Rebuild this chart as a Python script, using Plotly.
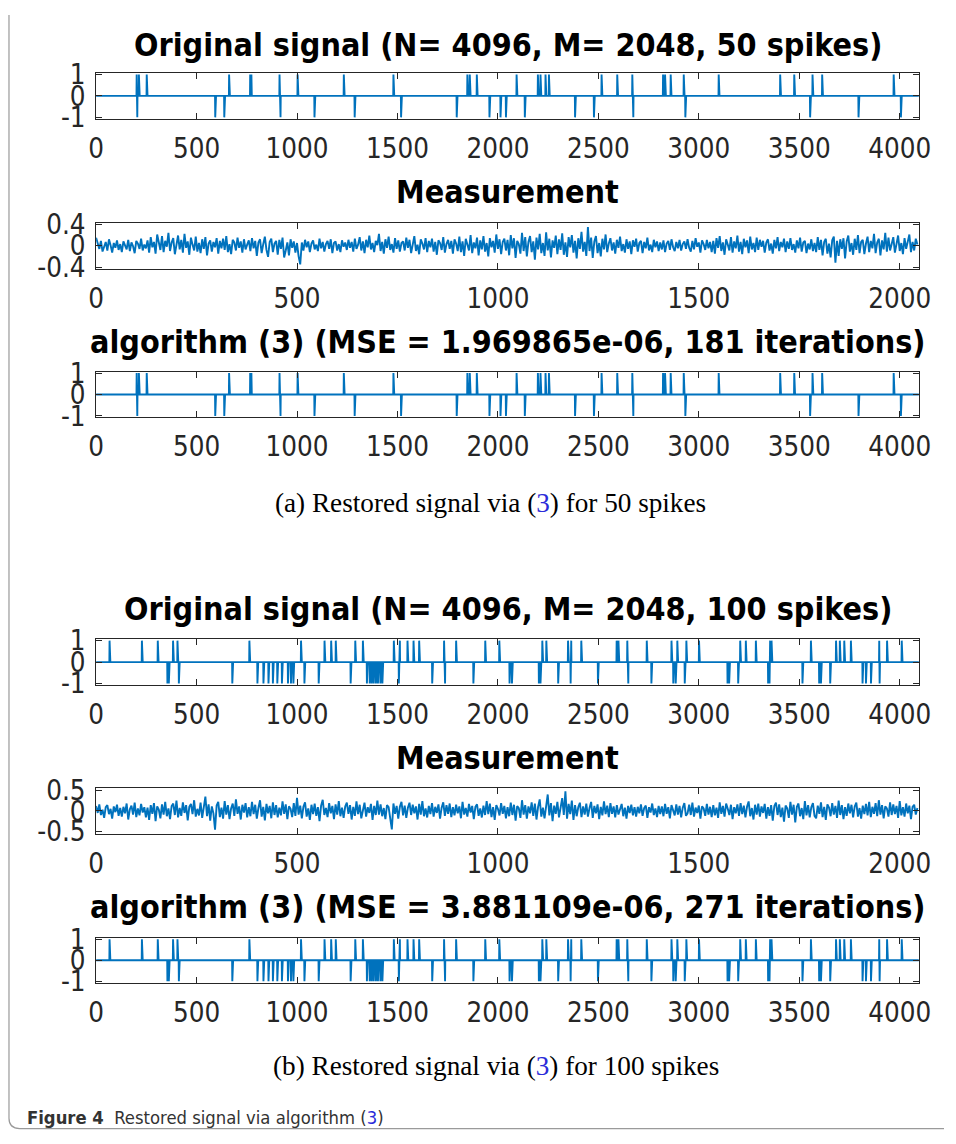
import numpy as np
import plotly.graph_objects as go

# ---------------- data ----------------
N_SIG = 4096
M_MEAS = 2048

# 50-spike signal: positions of +1 and -1 spikes
a_up = [202, 213, 252, 662, 767, 773, 913, 1003, 1233, 1480, 1848, 1860, 1895,
        2093, 2199, 2212, 2237, 2254, 2516, 2594, 2669, 2822, 2832, 2860, 2925,
        3099, 3405, 3475, 3566, 3614, 3970]
a_down = [205, 593, 638, 918, 1087, 1287, 1518, 1795, 1958, 2013, 2040, 2134,
          2384, 2478, 2674, 2933, 3554, 3795, 4006]

# 100-spike signal
b_up = [67, 228, 307, 383, 405, 763, 1020, 1137, 1170, 1193, 1290, 1328, 1482,
        1512, 1550, 1580, 1608, 1732, 1792, 1937, 2007, 2221, 2241, 2349, 2365,
        2415, 2591, 2600, 2644, 2741, 2864, 2893, 2938, 3001, 3206, 3234, 3284,
        3355, 3362, 3558, 3683, 3702, 3724, 3757, 3898, 3937, 4010]
b_down = [355, 362, 412, 678, 803, 833, 858, 880, 902, 925, 955, 970, 982, 1037,
          1108, 1267, 1348, 1362, 1372, 1382, 1393, 1403, 1415, 1425, 1507, 1673,
          1737, 1878, 2058, 2070, 2204, 2212, 2300, 2362, 2498, 2649, 2764, 2873,
          2885, 2930, 3143, 3151, 3196, 3345, 3352, 3516, 3599, 3608, 3654, 3815,
          3832, 3857, 3900]

meas_step = 4
meas_a = [
    0.15, 0.04, -0.06, 0.09, -0.11, -0.02, 0.07, -0.09, 0.12, 0.01, -0.13, 0.05, -0.04, 0.10, -0.08, 0.03,
    -0.12, 0.08, 0.02, -0.07, 0.11, -0.10, 0.06, -0.01, -0.14, 0.09, 0.04, -0.06, 0.13, -0.09, 0.02, -0.05,
    0.10, -0.13, 0.16, -0.03, 0.07, -0.15, 0.21, 0.05, -0.08, 0.18, -0.12, 0.09, -0.02, 0.24, -0.10, 0.06,
    0.14, -0.16, 0.03, 0.19, -0.07, 0.11, -0.13, 0.22, -0.04, 0.08, -0.17, 0.15, 0.02, -0.09, 0.17, -0.11,
    0.05, -0.14, 0.12, -0.06, 0.16, -0.18, 0.04, 0.10, -0.11, 0.07, -0.03, 0.14, -0.15, 0.09, -0.05, 0.13,
    -0.08, 0.18, -0.12, 0.03, -0.16, 0.11, 0.06, -0.09, 0.15, -0.04, 0.08, -0.13, 0.12, -0.07, 0.02, 0.10,
    -0.10, 0.14, -0.05, 0.09, -0.19, 0.06, 0.12, -0.14, 0.03, 0.17, -0.08, -0.21, 0.07, 0.13, -0.12, 0.04,
    0.09, -0.17, 0.11, -0.06, 0.15, -0.22, -0.09, 0.06, -0.18, 0.12, -0.04, 0.08, -0.13, 0.05, -0.20, -0.35,
    0.06, -0.09, 0.11, -0.03, 0.08, -0.12, 0.04, 0.10, -0.07, 0.02, -0.10, 0.13, -0.05, 0.07, -0.11, 0.03,
    0.09, -0.06, 0.12, -0.14, 0.05, 0.08, -0.09, 0.03, -0.12, 0.10, -0.02, 0.06, -0.08, 0.11, -0.04, 0.07,
    -0.11, 0.13, -0.06, 0.02, 0.16, -0.09, 0.08, -0.14, 0.11, -0.03, 0.19, -0.07, 0.05, -0.12, 0.09, 0.01,
    0.22, -0.10, 0.07, -0.15, 0.12, -0.04, 0.17, -0.08, 0.03, -0.13, 0.14, -0.06, 0.10, -0.11, 0.05, 0.08,
    -0.09, 0.15, -0.04, 0.11, -0.14, 0.06, 0.18, -0.10, 0.02, -0.16, 0.12, 0.04, -0.07, 0.14, -0.12, 0.09,
    -0.03, 0.13, -0.11, 0.07, -0.17, 0.10, 0.05, -0.08, 0.16, -0.13, 0.03, 0.11, -0.06, 0.09, -0.15, 0.12,
    0.04, -0.10, 0.17, -0.12, 0.08, -0.19, 0.13, 0.02, -0.09, 0.20, -0.14, 0.06, -0.05, 0.15, -0.18, 0.10,
    -0.07, 0.18, -0.11, 0.05, -0.20, 0.14, -0.03, 0.09, -0.13, 0.21, -0.06, 0.12, -0.16, 0.07, 0.13, -0.09,
    0.11, -0.18, 0.20, -0.05, 0.14, -0.23, 0.09, 0.03, -0.15, 0.24, -0.10, 0.16, -0.20, 0.07, 0.18, -0.12,
    0.08, -0.26, 0.15, -0.07, 0.22, -0.14, 0.05, -0.19, 0.25, -0.09, 0.13, -0.22, 0.10, -0.04, 0.19, -0.16,
    0.12, -0.08, 0.23, -0.17, 0.06, -0.21, 0.16, -0.03, 0.20, -0.13, 0.09, -0.24, 0.14, -0.06, 0.26, -0.11,
    0.07, -0.19, 0.35, -0.10, 0.15, -0.23, 0.08, 0.18, -0.14, 0.05, -0.20, 0.13, -0.07, 0.21, -0.12, 0.04,
    0.14, -0.09, 0.06, -0.15, 0.11, -0.04, 0.17, -0.10, 0.03, -0.13, 0.12, -0.06, 0.08, -0.16, 0.10, -0.02,
    0.13, -0.11, 0.05, 0.09, -0.14, 0.07, -0.05, 0.15, -0.09, 0.02, -0.12, 0.11, -0.03, 0.08, -0.10, 0.06,
    -0.07, 0.10, -0.12, 0.04, 0.09, -0.08, 0.12, -0.03, -0.10, 0.07, -0.05, 0.11, -0.09, 0.03, 0.08, -0.06,
    0.12, -0.04, -0.11, 0.09, -0.07, 0.14, -0.02, 0.06, -0.13, 0.10, 0.03, -0.08, 0.11, -0.05, 0.07, -0.12,
    0.09, -0.15, 0.14, -0.04, 0.18, -0.10, 0.06, -0.17, 0.12, 0.02, -0.09, 0.16, -0.13, 0.08, -0.05, 0.19,
    -0.11, 0.07, -0.16, 0.13, -0.03, 0.10, -0.14, 0.17, -0.07, 0.05, -0.12, 0.15, -0.08, 0.11, -0.02, 0.09,
    -0.13, 0.06, 0.12, -0.09, 0.04, -0.15, 0.11, -0.05, 0.16, -0.10, 0.07, -0.03, 0.13, -0.12, 0.08, -0.06,
    0.14, -0.08, 0.03, -0.13, 0.10, -0.05, 0.15, -0.11, 0.06, 0.09, -0.14, 0.04, -0.07, 0.12, -0.10, 0.05,
    -0.12, 0.16, -0.08, 0.11, -0.18, 0.07, 0.13, -0.15, 0.04, -0.22, 0.10, 0.17, -0.32, 0.09, -0.19, 0.12,
    -0.06, 0.14, -0.24, 0.08, 0.19, -0.11, 0.05, -0.17, 0.13, -0.08, 0.20, -0.14, 0.07, 0.11, -0.16, 0.04,
    0.17, -0.12, 0.09, -0.05, 0.22, -0.14, 0.06, 0.13, -0.18, 0.10, -0.07, 0.24, -0.11, 0.15, -0.09, 0.03,
    0.16, -0.13, 0.08, 0.19, -0.10, 0.05, -0.16, 0.14, -0.06, 0.11, 0.21, -0.12, 0.07, -0.09, 0.13, 0.02,
]
meas_b = [
    0.12, -0.05, 0.16, -0.10, 0.03, -0.17, 0.09, 0.14, -0.08, 0.05, -0.19, 0.11, -0.03, 0.15, -0.12, 0.07,
    -0.14, 0.10, -0.06, 0.18, -0.21, 0.04, 0.13, -0.09, 0.20, -0.15, 0.06, -0.11, 0.17, -0.04, 0.09, -0.16,
    0.08, -0.22, 0.14, -0.07, 0.19, -0.25, 0.11, 0.03, -0.18, 0.16, -0.09, 0.22, -0.13, 0.06, -0.20, 0.12,
    0.18, -0.10, 0.25, -0.16, 0.07, -0.12, 0.21, -0.05, 0.14, -0.23, 0.10, 0.17, -0.08, 0.26, -0.14, 0.05,
    -0.11, 0.20, -0.17, 0.09, 0.35, -0.13, 0.16, -0.24, 0.11, -0.06, -0.46, 0.13, 0.22, -0.15, 0.08, -0.19,
    0.24, -0.09, 0.14, -0.20, 0.06, 0.18, -0.12, 0.28, -0.07, 0.11, -0.21, 0.15, -0.04, 0.19, -0.16, 0.09,
    -0.13, 0.22, -0.08, 0.15, -0.19, 0.07, 0.26, -0.14, 0.10, -0.23, 0.17, -0.06, 0.12, -0.18, 0.21, -0.10,
    0.14, -0.16, 0.08, -0.11, 0.23, -0.07, 0.16, -0.20, 0.11, 0.05, -0.15, 0.19, -0.12, 0.32, -0.09, 0.13,
    -0.18, 0.10, 0.21, -0.14, 0.06, -0.22, 0.15, -0.08, 0.18, -0.12, 0.09, -0.25, 0.13, 0.27, -0.10, 0.07,
    -0.15, 0.19, -0.06, 0.12, -0.20, 0.16, -0.09, 0.24, -0.13, 0.08, -0.17, 0.11, 0.20, -0.07, 0.14, -0.21,
    0.10, -0.12, 0.23, -0.08, 0.15, -0.18, 0.06, 0.20, -0.14, 0.09, -0.05, 0.17, -0.22, 0.12, -0.10, 0.25,
    -0.09, 0.16, -0.13, 0.07, -0.20, 0.14, 0.09, -0.16, -0.45, 0.18, -0.07, 0.12, -0.19, 0.10, 0.22, -0.11,
    0.13, -0.17, 0.08, 0.20, -0.10, 0.15, -0.06, 0.11, -0.21, 0.17, -0.09, 0.24, -0.13, 0.06, -0.16, 0.12,
    -0.08, 0.19, -0.14, 0.10, -0.05, 0.16, -0.19, 0.08, 0.21, -0.12, 0.14, -0.07, 0.18, -0.15, 0.09, -0.11,
    0.15, -0.06, 0.11, -0.18, 0.22, -0.09, 0.07, -0.14, 0.17, -0.04, 0.12, -0.20, 0.10, 0.16, -0.12, 0.06,
    -0.16, 0.13, -0.10, 0.24, -0.08, 0.18, -0.15, 0.09, -0.22, 0.14, 0.05, -0.11, 0.19, -0.07, 0.12, -0.18,
    0.09, -0.13, 0.20, -0.10, 0.15, -0.24, 0.12, 0.07, -0.17, 0.26, -0.09, 0.14, -0.19, 0.11, -0.06, 0.21,
    -0.12, 0.18, -0.21, 0.10, 0.28, -0.14, 0.08, -0.18, 0.15, 0.40, -0.11, 0.19, -0.25, 0.13, -0.07, 0.22,
    -0.16, 0.12, 0.31, -0.10, 0.48, -0.19, 0.17, -0.08, 0.25, -0.22, 0.14, -0.13, 0.09, 0.20, -0.15, 0.11,
    -0.09, 0.18, -0.14, 0.07, 0.22, -0.17, 0.12, -0.06, 0.16, -0.20, 0.10, -0.11, 0.23, -0.08, 0.13, -0.15,
    0.19, -0.07, 0.11, -0.16, 0.14, -0.09, 0.05, 0.17, -0.13, 0.08, -0.19, 0.12, -0.05, 0.15, -0.11, 0.09,
    -0.14, 0.10, -0.06, 0.16, -0.12, 0.07, 0.13, -0.17, 0.09, -0.04, 0.18, -0.10, 0.06, -0.15, 0.12, -0.08,
    0.11, -0.13, 0.17, -0.07, 0.09, -0.18, 0.14, 0.04, -0.11, 0.16, -0.09, 0.12, -0.16, 0.08, 0.19, -0.12,
    -0.06, 0.15, -0.10, 0.20, -0.14, 0.08, -0.05, 0.13, -0.19, 0.11, 0.06, -0.12, 0.17, -0.09, 0.10, -0.15,
    0.14, -0.11, 0.08, -0.17, 0.21, -0.07, 0.12, -0.14, 0.18, 0.05, -0.10, 0.15, -0.20, 0.09, -0.06, 0.16,
    -0.12, 0.19, -0.08, 0.13, -0.16, 0.10, 0.23, -0.13, 0.07, -0.21, 0.15, -0.09, 0.18, -0.14, 0.11, -0.05,
    0.17, -0.19, 0.09, -0.12, 0.14, -0.24, 0.12, 0.20, -0.10, 0.16, -0.15, 0.08, -0.26, 0.13, 0.06, -0.17,
    0.22, -0.09, 0.15, -0.28, 0.10, 0.18, -0.13, 0.07, -0.20, 0.24, -0.11, 0.14, -0.16, 0.09, 0.19, -0.12,
    -0.18, 0.13, -0.07, 0.21, -0.15, 0.10, -0.22, 0.16, 0.08, -0.13, 0.19, -0.09, 0.12, -0.17, 0.25, -0.10,
    0.14, -0.20, 0.09, -0.12, 0.18, -0.06, 0.15, -0.16, 0.11, 0.20, -0.14, 0.07, -0.19, 0.13, -0.08, 0.17,
    -0.11, 0.22, -0.15, 0.10, -0.07, 0.19, -0.13, 0.26, -0.09, 0.14, -0.18, 0.11, 0.06, -0.14, 0.21, -0.10,
    0.16, -0.08, 0.12, -0.17, 0.24, -0.11, 0.09, -0.14, 0.18, -0.06, 0.13, -0.20, 0.10, 0.15, -0.09, 0.07,
]

titles = [
    "Original signal (N= 4096, M= 2048, 50 spikes)",
    "Measurement",
    "algorithm (3) (MSE = 1.969865e-06, 181 iterations)",
    "Original signal (N= 4096, M= 2048, 100 spikes)",
    "Measurement",
    "algorithm (3) (MSE = 3.881109e-06, 271 iterations)",
]
sig_xticks = [0, 500, 1000, 1500, 2000, 2500, 3000, 3500, 4000]
meas_xticks = [0, 500, 1000, 1500, 2000]
spike_yticks = [-1, 0, 1]
meas_a_yticks = [-0.4, 0, 0.4]
meas_b_yticks = [-0.5, 0, 0.5]


def spike_signal(up, down):
    y = np.zeros(N_SIG)
    y[up] = 1.0
    y[down] = -1.0
    return y


sig_a = spike_signal(a_up, a_down)
rec_a = spike_signal(a_up, a_down)
sig_b = spike_signal(b_up, b_down)
rec_b = spike_signal(b_up, b_down)

# ---------------- figure ----------------
W, H = 956, 1144
BLUE = "#0072BD"
AX = "#262626"
FONT = "DejaVu Sans Condensed, DejaVu Sans, sans-serif"

# the page is photographed slightly reduced and shifted; place items so that
# they land where the reference shows them
SX, BX = 0.978, 8.0
SY, BY = 0.976, 13.0


def fx(px):
    return ((px - BX) / SX) / W


def fy(py):
    return 1 - ((py - BY) / SY) / H


fig = go.Figure()

series = [
    (np.arange(N_SIG), sig_a, 1.9),
    (np.arange(len(meas_a)) * meas_step, np.array(meas_a), 1.9),
    (np.arange(N_SIG), rec_a, 1.9),
    (np.arange(N_SIG), sig_b, 1.9),
    (np.arange(len(meas_b)) * meas_step, np.array(meas_b), 1.9),
    (np.arange(N_SIG), rec_b, 1.9),
]
for i, (x, y, lw) in enumerate(series):
    sfx = "" if i == 0 else str(i + 1)
    fig.add_trace(go.Scatter(x=x, y=y, mode="lines",
                             line=dict(color=BLUE, width=lw),
                             xaxis="x" + sfx, yaxis="y" + sfx,
                             showlegend=False, hoverinfo="skip"))

# plot box positions in the reference (px from top)
boxes = [(71, 117), (221, 267), (370, 416), (638, 684), (787, 833), (937, 982)]
title_y = [43, 190, 340, 608, 757, 906]
x0px, x1px = 96, 918

layout = dict(width=W, height=H, margin=dict(l=0, r=0, t=0, b=0),
              paper_bgcolor="white", plot_bgcolor="white", showlegend=False)


def fmt(v):
    return "0" if v == 0 else ("%g" % v)


for i, (top, bot) in enumerate(boxes):
    sfx = "" if i == 0 else str(i + 1)
    is_meas = i in (1, 4)
    xt = meas_xticks if is_meas else sig_xticks
    xr = [0, M_MEAS] if is_meas else [0, N_SIG]
    if i == 1:
        yt, yr = meas_a_yticks, [-0.43, 0.43]
    elif i == 4:
        yt, yr = meas_b_yticks, [-0.56, 0.56]
    else:
        yt, yr = spike_yticks, [-1.07, 1.07]
    common = dict(showline=True, linecolor=AX, linewidth=1, mirror="ticks",
                  ticks="inside", ticklen=6, tickcolor=AX, showgrid=False,
                  zeroline=False, tickfont=dict(family=FONT, size=27.5, color=AX))
    layout["xaxis" + sfx] = dict(domain=[fx(x0px), fx(x1px)], range=xr,
                                 tickvals=xt, ticktext=[str(t) for t in xt],
                                 anchor="y" + sfx, ticklabelstandoff=5, **common)
    layout["yaxis" + sfx] = dict(domain=[fy(bot), fy(top)], range=yr,
                                 tickvals=yt, ticktext=[fmt(t) for t in yt],
                                 anchor="x" + sfx, ticklabelstandoff=4, **common)

fig.update_layout(**layout)

annots = []
for t, yc in zip(titles, title_y):
    annots.append(dict(text="<b>" + t + "</b>", x=fx(507), y=fy(yc),
                       xref="paper", yref="paper", xanchor="center", yanchor="middle",
                       showarrow=False, font=dict(family=FONT, size=32, color="#000")))

SERIF = "Liberation Serif, Times New Roman, serif"
LINK = "#2b2bd9"
annots.append(dict(text="(a) Restored signal via (<span style='color:%s'>3</span>) for 50 spikes" % LINK,
                   x=fx(490), y=fy(502), xref="paper", yref="paper",
                   xanchor="center", yanchor="middle", showarrow=False,
                   font=dict(family=SERIF, size=27.2, color="#000")))
annots.append(dict(text="(b) Restored signal via (<span style='color:%s'>3</span>) for 100 spikes" % LINK,
                   x=fx(495), y=fy(1065), xref="paper", yref="paper",
                   xanchor="center", yanchor="middle", showarrow=False,
                   font=dict(family=SERIF, size=27.2, color="#000")))
annots.append(dict(text="<b>Figure 4</b>  Restored signal via algorithm (<span style='color:%s'>3</span>)" % LINK,
                   x=fx(25), y=fy(1117), xref="paper", yref="paper",
                   xanchor="left", yanchor="middle", showarrow=False,
                   font=dict(family=FONT, size=18.3, color="#333")))
fig.update_layout(annotations=annots)


# frame of the figure panel (left and bottom, rounded corner)
def P(xp, yp):
    return "%.5f,%.5f" % (xp / W, 1 - yp / H)


path = "M " + P(1, 0) + " L " + P(1, 1132) + " Q " + P(1, 1142.5) + " " + P(12, 1142.5) + " L " + P(956, 1142.5)
fig.add_shape(type="path", path=path, xref="paper", yref="paper",
              line=dict(color="#9a9a9a", width=1.2))

fig.write_html("out.html")
